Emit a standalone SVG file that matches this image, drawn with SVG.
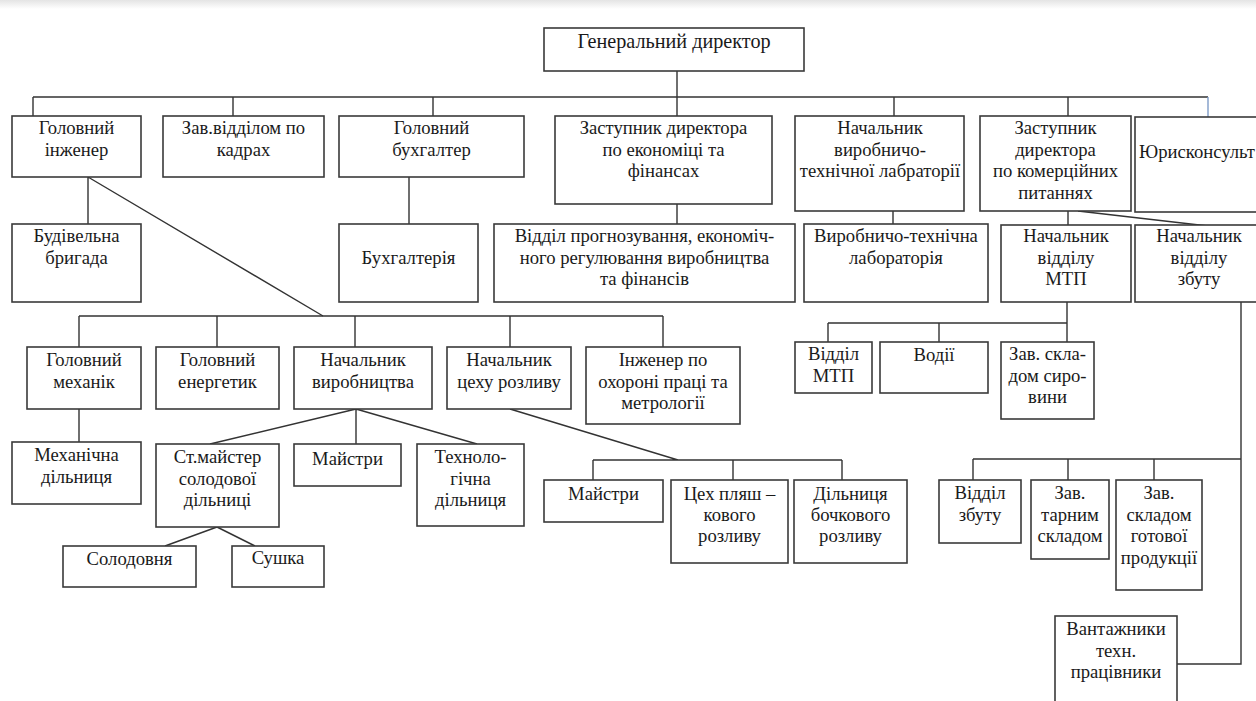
<svg xmlns="http://www.w3.org/2000/svg" width="1256" height="701" viewBox="0 0 1256 701">
<defs>
<linearGradient id="topShade" x1="0" y1="0" x2="0" y2="1">
<stop offset="0" stop-color="#e4e4e4"/>
<stop offset="1" stop-color="#ffffff"/>
</linearGradient>
</defs>
<style>
.box{fill:#fff;stroke:#3a3a3a;stroke-width:1.6}
.ln{fill:none;stroke:#333;stroke-width:1.4}
.blue{fill:none;stroke:#7f9cc8;stroke-width:1.4}
text{font-family:"Liberation Serif","Times New Roman",serif;font-size:18.67px;fill:#1a1a1a;text-anchor:middle}
.title{font-size:20.2px}
</style>
<rect x="0" y="0" width="1256" height="701" fill="#fff"/>
<rect x="0" y="0" width="1256" height="9" fill="url(#topShade)"/>

<g id="connectors">
<path class="ln" d="M677,71 V116 M33,97 H1208 M33,97 V116 M233,97 V116 M433,97 V116 M894,97 V116 M1068,97 V116"/>
<path class="blue" d="M1208,97 V117"/>
<path class="ln" d="M88,177 V224 M88,177 L323,316 M409,177 V224 M677,204 V224 M893,211 V224 M1068,211 V225 M1078,211 L1208,226"/>
<path class="ln" d="M79,316 H663 M79,316 V347 M217,316 V347 M355,316 V347 M510,316 V347 M663,316 V347"/>
<path class="ln" d="M1067,302 V342 M828,323 H1067 M828,323 V342 M939,323 V342"/>
<path class="ln" d="M79,409 V442 M356,409 L210,444 M356,409 V444 M356,409 L477,444 M217,527 L165,546 M217,527 L255,546"/>
<path class="ln" d="M510,409 L678,460 M593,460 H842 M593,460 V480 M733,460 V480 M842,460 V480"/>
<path class="ln" d="M1241,302 V664 H1177 M973,459 H1241 M973,459 V480 M1068,459 V480 M1154,459 V480"/>
</g>

<g id="gen-director"><rect class="box" x="544" y="28" width="260" height="43"/><text class="title" x="674" y="48">Генеральний директор</text></g>
<g id="chief-engineer"><rect class="box" x="12" y="116" width="129" height="61"/><text x="76.5" y="134">Головний</text><text x="76.5" y="156">інженер</text></g>
<g id="hr-head"><rect class="box" x="163" y="116" width="161" height="61"/><text x="243.5" y="134">Зав.відділом по</text><text x="243.5" y="156">кадрах</text></g>
<g id="chief-accountant"><rect class="box" x="339" y="116" width="185" height="61"/><text x="431.5" y="134">Головний</text><text x="431.5" y="156">бухгалтер</text></g>
<g id="deputy-econ"><rect class="box" x="555" y="116" width="217" height="88"/><text x="663.5" y="134">Заступник директора</text><text x="663.5" y="155.5">по економіці та</text><text x="663.5" y="177">фінансах</text></g>
<g id="lab-head"><rect class="box" x="795" y="116" width="169" height="95"/><text x="880" y="134">Начальник</text><text x="880" y="155.5">виробничо-</text><text x="880" y="177">технічної лабраторії</text></g>
<g id="deputy-comm"><rect class="box" x="980" y="116" width="151" height="95"/><text x="1055.5" y="134">Заступник</text><text x="1055.5" y="155.5">директора</text><text x="1055.5" y="177">по комерційних</text><text x="1055.5" y="198.5">питаннях</text></g>
<g id="legal"><rect class="box" x="1135" y="117" width="130" height="95"/><text x="1139" y="158" style="text-anchor:start">Юрисконсульт</text></g>

<g id="construction"><rect class="box" x="12" y="224" width="129" height="78"/><text x="76.5" y="242">Будівельна</text><text x="76.5" y="263.5">бригада</text></g>
<g id="accounting"><rect class="box" x="339" y="224" width="139" height="78"/><text x="408.5" y="264">Бухгалтерія</text></g>
<g id="forecast-dept"><rect class="box" x="494" y="224" width="301" height="78"/><text x="644.5" y="242">Відділ прогнозування, економіч-</text><text x="644.5" y="263.5">ного регулювання виробництва</text><text x="644.5" y="285">та фінансів</text></g>
<g id="lab"><rect class="box" x="804" y="224" width="184" height="78"/><text x="896" y="242">Виробничо-технічна</text><text x="896" y="263.5">лабораторія</text></g>
<g id="mtp-head"><rect class="box" x="1001" y="225" width="130" height="77"/><text x="1066" y="242">Начальник</text><text x="1066" y="263.5">відділу</text><text x="1066" y="285">МТП</text></g>
<g id="sales-head"><rect class="box" x="1135" y="225" width="128" height="77"/><text x="1199" y="242">Начальник</text><text x="1199" y="263.5">відділу</text><text x="1199" y="285">збуту</text></g>

<g id="chief-mechanic"><rect class="box" x="27" y="347" width="114" height="62"/><text x="84" y="366">Головний</text><text x="84" y="387.5">механік</text></g>
<g id="chief-power"><rect class="box" x="156" y="347" width="123" height="62"/><text x="217.5" y="366">Головний</text><text x="217.5" y="387.5">енергетик</text></g>
<g id="production-head"><rect class="box" x="294" y="347" width="138" height="62"/><text x="363" y="366">Начальник</text><text x="363" y="387.5">виробництва</text></g>
<g id="bottling-head"><rect class="box" x="447" y="347" width="124" height="62"/><text x="509" y="366">Начальник</text><text x="509" y="387.5">цеху розливу</text></g>
<g id="safety-engineer"><rect class="box" x="586" y="347" width="154" height="77"/><text x="663" y="366">Інженер по</text><text x="663" y="387.5">охороні праці та</text><text x="663" y="409">метрології</text></g>

<g id="mtp-dept"><rect class="box" x="795" y="342" width="77" height="51"/><text x="833.5" y="360">Відділ</text><text x="833.5" y="381.5">МТП</text></g>
<g id="drivers"><rect class="box" x="880" y="342" width="108" height="51"/><text x="934" y="361">Водії</text></g>
<g id="raw-store"><rect class="box" x="1001" y="342" width="93" height="77"/><text x="1047.5" y="360">Зав. скла-</text><text x="1047.5" y="381.5">дом сиро-</text><text x="1047.5" y="403">вини</text></g>

<g id="mech-section"><rect class="box" x="12" y="442" width="129" height="62"/><text x="76.5" y="461">Механічна</text><text x="76.5" y="482.5">дільниця</text></g>
<g id="malt-master"><rect class="box" x="156" y="444" width="123" height="83"/><text x="217.5" y="463">Ст.майстер</text><text x="217.5" y="484.5">солодової</text><text x="217.5" y="506">дільниці</text></g>
<g id="masters-1"><rect class="box" x="294" y="444" width="107" height="42"/><text x="347.5" y="465">Майстри</text></g>
<g id="tech-section"><rect class="box" x="417" y="444" width="107" height="82"/><text x="470.5" y="463">Техноло-</text><text x="470.5" y="484.5">гічна</text><text x="470.5" y="506">дільниця</text></g>
<g id="malthouse"><rect class="box" x="63" y="546" width="133" height="41"/><text x="129.5" y="565">Солодовня</text></g>
<g id="dryer"><rect class="box" x="232" y="546" width="92" height="41"/><text x="278" y="564">Сушка</text></g>

<g id="masters-2"><rect class="box" x="544" y="480" width="119" height="42"/><text x="603.5" y="500">Майстри</text></g>
<g id="bottle-shop"><rect class="box" x="671" y="480" width="117" height="83"/><text x="729.5" y="500">Цех пляш –</text><text x="729.5" y="521">кового</text><text x="729.5" y="542">розливу</text></g>
<g id="barrel-section"><rect class="box" x="794" y="480" width="113" height="83"/><text x="850.5" y="500">Дільниця</text><text x="850.5" y="521">бочкового</text><text x="850.5" y="542">розливу</text></g>

<g id="sales-dept"><rect class="box" x="939" y="480" width="82" height="63"/><text x="980" y="499">Відділ</text><text x="980" y="520.5">збуту</text></g>
<g id="container-store"><rect class="box" x="1031" y="480" width="78" height="79"/><text x="1070" y="499">Зав.</text><text x="1070" y="520.5">тарним</text><text x="1070" y="542">складом</text></g>
<g id="finished-store"><rect class="box" x="1116" y="480" width="86" height="110"/><text x="1159" y="499">Зав.</text><text x="1159" y="520.5">складом</text><text x="1159" y="542">готової</text><text x="1159" y="563.5">продукції</text></g>
<g id="loaders"><rect class="box" x="1055" y="616" width="122" height="100"/><text x="1116" y="635">Вантажники</text><text x="1116" y="656.5">техн.</text><text x="1116" y="678">працівники</text></g>
</svg>
